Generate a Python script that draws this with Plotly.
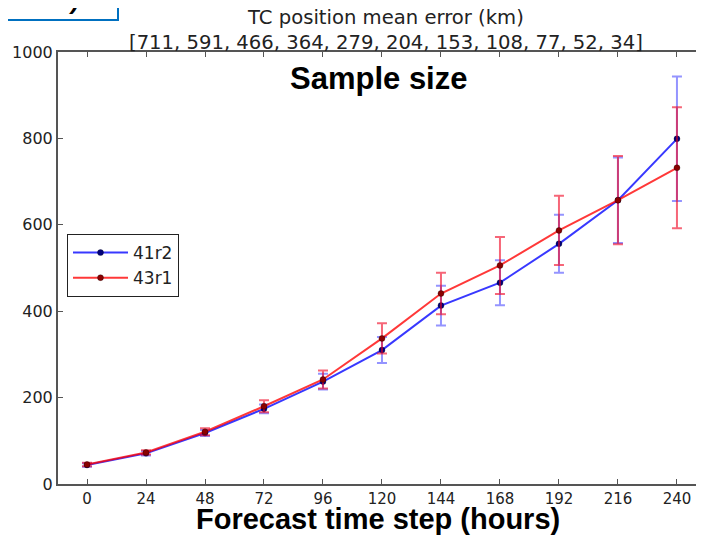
import plotly.graph_objects as go

# ---- data ----
lead_hours = [0, 24, 48, 72, 96, 120, 144, 168, 192, 216, 240]
err_41r2 = [44, 71, 118, 174, 237, 310, 413, 466, 556, 657, 799]
ci_41r2 = [4, 5, 7, 10, 18, 30, 46, 52, 67, 99, 144]
err_43r1 = [45, 73, 121, 180, 242, 337, 441, 506, 587, 657, 732]
ci_43r1 = [4, 5, 8, 14, 21, 35, 48, 66, 80, 102, 140]
sample_sizes = [711, 591, 466, 364, 279, 204, 153, 108, 77, 52, 34]
series_names = ["41r2", "43r1"]

# the page body has an 8px margin, so the figure is sized/placed to compensate
OFF = 8
W, H = 704 - OFF, 535 - OFF
L, R, T, B = 58 - OFF, 0, 52 - OFF, 535 - 484

fig = go.Figure()

fig.add_trace(go.Scatter(
    x=lead_hours, y=err_41r2, name=series_names[0], mode="lines+markers",
    line=dict(color="rgba(0,0,255,0.78)", width=2),
    marker=dict(color="#00007a", size=6, line=dict(color="rgba(0,0,0,0.6)", width=0.5)),
    error_y=dict(type="data", array=ci_41r2, visible=True,
                 color="rgba(60,60,255,0.55)", thickness=2, width=5),
))
fig.add_trace(go.Scatter(
    x=lead_hours, y=err_43r1, name=series_names[1], mode="lines+markers",
    line=dict(color="rgba(255,0,0,0.78)", width=2),
    marker=dict(color="#8a0000", size=6, line=dict(color="rgba(0,0,0,0.6)", width=0.5)),
    error_y=dict(type="data", array=ci_43r1, visible=True,
                 color="rgba(240,0,30,0.6)", thickness=2, width=5),
))

title_text = ("TC position mean error (km)<br>[" +
              ", ".join(str(s) for s in sample_sizes) + "]")

axis_col = "#555555"
fig.update_layout(
    width=W, height=H,
    margin=dict(l=L, r=R, t=T, b=B, pad=0, autoexpand=False),
    paper_bgcolor="white", plot_bgcolor="white",
    showlegend=True,
    legend=dict(x=(67 - 58) / 646, y=(484 - 234) / 432, xanchor="left", yanchor="top",
                bgcolor="white", bordercolor="#222222", borderwidth=1,
                font=dict(family="DejaVu Sans", size=17, color="#222222"),
                tracegroupgap=2, itemwidth=55),
    xaxis=dict(range=[-11.8, 251], tickvals=lead_hours, ticktext=[str(h) for h in lead_hours],
               ticks="inside", ticklen=5, tickcolor=axis_col, tickwidth=1,
               showline=True, linecolor=axis_col, linewidth=2, mirror="ticks",
               showgrid=False, zeroline=False, automargin=False,
               tickfont=dict(family="DejaVu Sans", size=15, color="#222222")),
    yaxis=dict(range=[0, 1000], dtick=200, ticks="inside", ticklen=5,
               tickcolor=axis_col, tickwidth=1,
               showline=True, linecolor=axis_col, linewidth=2, mirror=False,
               showgrid=False, zeroline=False, automargin=False,
               tickfont=dict(family="DejaVu Sans", size=16, color="#222222")),
    yaxis2=dict(range=[0, 1000], dtick=200, overlaying="y", side="right",
                ticks="inside", ticklen=5, tickcolor=axis_col, tickwidth=1,
                showticklabels=False, showline=False, showgrid=False, zeroline=False,
                automargin=False),
)

# helpers: page pixel -> paper coordinates
def px_x(px):
    return (px - OFF - L) / (W - L - R)

def px_y(py):
    return (H - B - (py - OFF)) / (H - T - B)

# title
fig.add_annotation(text=title_text, xref="paper", yref="paper",
                   x=px_x(386), y=px_y(4), xanchor="center", yanchor="top",
                   showarrow=False, align="center",
                   font=dict(family="DejaVu Sans", size=19.6, color="#222222"))
# sample size label
fig.add_annotation(text="<b>Sample size</b>", xref="paper", yref="paper",
                   x=px_x(378), y=px_y(78), xanchor="center", yanchor="middle",
                   showarrow=False,
                   font=dict(family="Liberation Sans", size=31, color="black"))
# x-axis label
fig.add_annotation(text="<b>Forecast time step (hours)</b>", xref="paper", yref="paper",
                   x=px_x(378), y=px_y(519), xanchor="center", yanchor="middle",
                   showarrow=False,
                   font=dict(family="Liberation Sans", size=29, color="black"))

# clipped slide text box, top-left
fig.add_shape(type="rect", xref="paper", yref="paper",
              x0=px_x(-20), x1=px_x(118), y0=px_y(20), y1=px_y(-40),
              line=dict(color="#0070C0", width=2), fillcolor="white", layer="above")
fig.add_annotation(text="ZES)", xref="paper", yref="paper",
                   x=px_x(84), y=px_y(16), xanchor="right", yanchor="bottom",
                   showarrow=False,
                   font=dict(family="Liberation Sans", size=40, color="black"))

fig.write_html("out.html")
